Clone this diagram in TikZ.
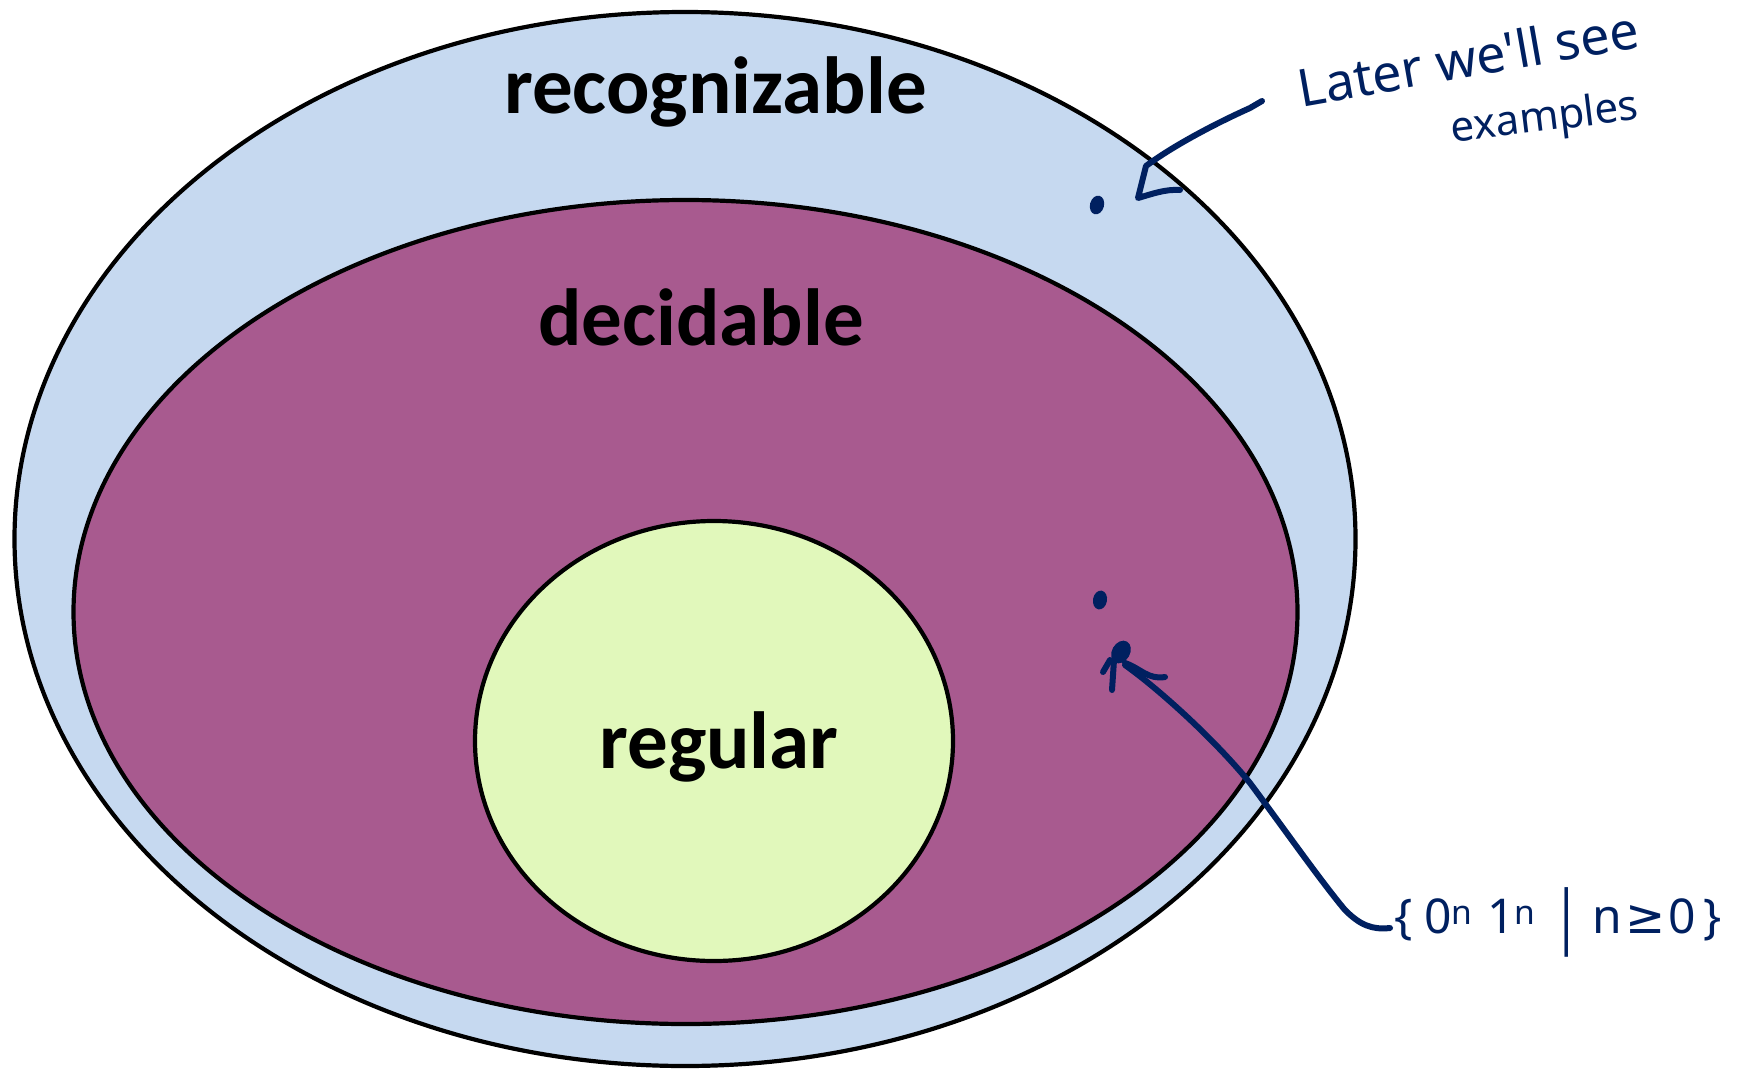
\documentclass[tikz,border=0pt]{standalone}
\usepackage{fontspec}
\setmainfont{Carlito}
\newfontfamily\handfont{Noto Sans}
\newfontfamily\symfont{DejaVu Sans}
\usetikzlibrary{shapes.geometric}
\definecolor{recogblue}{HTML}{C6D9F0}
\definecolor{decpurple}{HTML}{A85A8F}
\definecolor{reggreen}{HTML}{E1F8BB}
\definecolor{ink}{HTML}{002060}
\tikzset{
  setellipse/.style={ellipse, draw=black, line width=4.2pt, inner sep=0pt, outer sep=0pt},
  lab/.style={font=\bfseries\fontsize{81}{81}\selectfont, anchor=base, inner sep=0pt, text=black},
  hand/.style={text=ink, inner sep=0pt, font=\handfont\fontsize{52}{56}\selectfont},
  pen/.style={draw=ink, line width=6pt, line cap=round, line join=round},
  inkdot/.style={ellipse, fill=ink, inner sep=0pt, minimum width=14pt, minimum height=19pt}
}
\begin{document}
\begin{tikzpicture}[x=1pt,y=-1pt]
\useasboundingbox (0,0) rectangle (1745,1068);
% set ellipses
\node[setellipse, fill=recogblue, minimum width=1341pt, minimum height=1054pt] (recog) at (685,539) {};
\node[setellipse, fill=decpurple, minimum width=1224pt, minimum height=824pt] (decid) at (685.5,612) {};
\node[setellipse, fill=reggreen, minimum width=478pt, minimum height=440pt] (reg) at (714,741) {};
% labels
\node[lab] (recoglab) at (715.6,113.5) {recognizable};
\node[lab] (decidlab) at (701,345) {decidable};
\node[lab] (reglab) at (719,768) {regular};
% ink dots
\node[inkdot, rotate=-15] (dotA) at (1097,205) {};
\node[inkdot, rotate=-10] (dotB) at (1100,600) {};
% handwritten notes
\node[hand, rotate=10] (later) at (1468,58) {Later we'll see};
\node[hand, rotate=7, font=\handfont\fontsize{42}{46}\selectfont] (examples) at (1545,120) {examples};
\node[hand, font=\handfont\fontsize{48}{52}\selectfont, anchor=west] (lang) at (1394,922)
  {\{\hspace{12pt}0\textsuperscript{n}\hspace{14pt}1\textsuperscript{n}\hspace{18pt}\raisebox{-7pt}{\scalebox{1}[1.45]{|}}\hspace{12pt}n\hspace{3pt}{\symfont ≥}\hspace{3pt}0\hspace{8pt}\}};
% arrow 1
\coordinate (startA) at (1262,101);
\coordinate (tipA) at (1138,198);
\draw[pen] (startA) -- (1250,108) .. controls (1210,126) and (1170,148) .. (1146,166) -- (tipA) .. controls (1152,194) and (1165,189) .. (1180,190);
% arrow 2
\coordinate (startB) at (1390,928);
\coordinate (tipB) at (1121,652);
\draw[pen] (startB) .. controls (1372,930) and (1360,925) .. (1345,910)
  .. controls (1320,880) and (1285,830) .. (1250,783)
  .. controls (1215,740) and (1160,690) .. (1125,665);
\draw[pen] (1112,690) -- (1114,660);
\draw[pen] (1103,672) -- (1110,660);
\draw[pen] (1125,663) .. controls (1140,668) and (1148,680) .. (1165,677);
\fill[ink, rotate around={-30:(tipB)}] (tipB) ellipse (9 and 12);
\end{tikzpicture}
\end{document}
